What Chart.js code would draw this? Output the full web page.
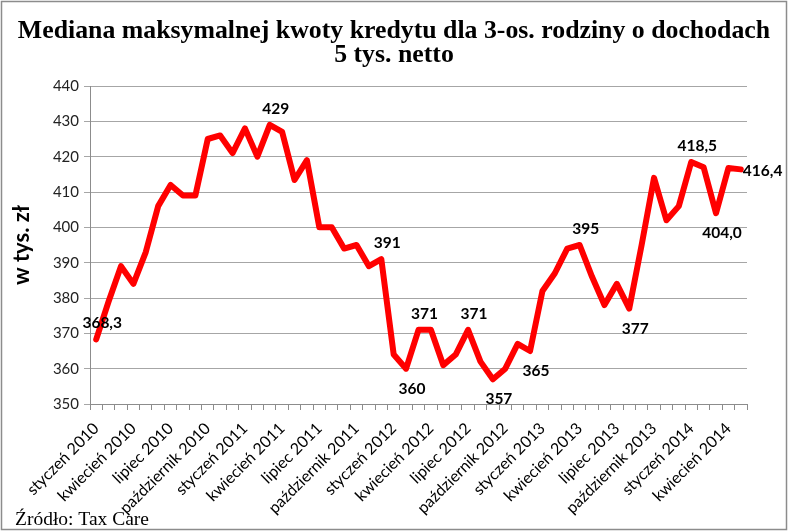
<!DOCTYPE html>
<html>
<head>
<meta charset="utf-8">
<script src="https://cdn.jsdelivr.net/npm/chart.js@4/dist/chart.umd.min.js"></script>
<style>
  html, body { margin: 0; padding: 0; background: #fff; }
</style>
</head>
<body>
<canvas id="chart" width="788" height="531"></canvas>
<script>
const months = ['styczeń', 'luty', 'marzec', 'kwiecień', 'maj', 'czerwiec', 'lipiec',
  'sierpień', 'wrzesień', 'październik', 'listopad', 'grudzień']
const years = [2010, 2011, 2012, 2013, 2014]

// Jan 2010 .. May 2014
const categories = []
years.forEach(y => months.forEach(m => categories.push(`${m} ${y}`)))
categories.length = 53

const values = [
  368.3, 379, 389, 384, 393, 406, 412, 409, 409, 425, 426, 421,
  428, 420, 429, 427, 413.4, 419, 400, 400, 394, 395, 389, 391,
  364, 360, 371, 371, 361, 364, 371, 362, 357, 360, 367, 365,
  382, 387, 394, 395, 386, 378, 384, 377, 395, 414, 402, 406,
  418.5, 417, 404.0, 416.8, 416.4
]

const yTicks = [350, 360, 370, 380, 390, 400, 410, 420, 430, 440]

// labelled points
const labelIndex = [0, 14, 23, 25, 26, 30, 32, 35, 39, 43, 48, 50, 52]
const labelText = ['368,3', '429', '391', '360', '371', '371', '357', '365', '395', '377', '418,5', '404,0', '416,4']
const labelPlace = ['above', 'above', 'above', 'below', 'above', 'above', 'below', 'below', 'above', 'below', 'above', 'below', 'right']

const title = ['Mediana maksymalnej kwoty kredytu dla 3-os. rodziny o dochodach', '5 tys. netto']
const yTitle = 'w tys. zł'
const source = 'Źródło: Tax Care'

const frame = {
  id: 'frame',
  beforeDraw(chart) {
    const ctx = chart.ctx
    ctx.save()
    ctx.fillStyle = '#fff'
    ctx.fillRect(0, 0, chart.width, chart.height)
    ctx.restore()
  },
  afterDraw(chart) {
    const ctx = chart.ctx
    ctx.save()
    ctx.strokeStyle = '#8c8c8c'
    ctx.lineWidth = 1.5
    ctx.strokeRect(1.5, 1.5, chart.width - 3, chart.height - 3)
    ctx.fillStyle = '#000'
    ctx.textBaseline = 'alphabetic'
    // title, centred on the whole picture
    ctx.font = 'bold 25.8px "Liberation Serif"'
    ctx.textAlign = 'center'
    ctx.fillText(title[0], chart.width / 2, 38)
    ctx.fillText(title[1], chart.width / 2, 62)
    // source note
    ctx.font = '19.5px "Liberation Serif"'
    ctx.textAlign = 'left'
    ctx.fillText(source, 15, 525)
    ctx.restore()
  }
}

const pointLabels = {
  id: 'pointLabels',
  afterDatasetsDraw(chart) {
    const ctx = chart.ctx
    const pts = chart.getDatasetMeta(0).data
    ctx.save()
    ctx.font = 'bold 15.5px Lato'
    ctx.fillStyle = '#000'
    ctx.textBaseline = 'middle'
    labelIndex.forEach((idx, i) => {
      const p = pts[idx]
      const place = labelPlace[i]
      if (place === 'right') {
        ctx.textAlign = 'left'
        ctx.fillText(labelText[i], p.x + 2, p.y + 2)
      } else {
        ctx.textAlign = 'center'
        ctx.fillText(labelText[i], p.x + 6, place === 'above' ? p.y - 16 : p.y + 20)
      }
    })
    ctx.restore()
  }
}

new Chart(document.getElementById('chart'), {
  type: 'line',
  data: {
    labels: categories,
    datasets: [{
      data: values,
      borderColor: '#ff0000',
      borderWidth: 6,
      borderJoinStyle: 'round',
      borderCapStyle: 'round',
      pointRadius: 0,
      tension: 0,
      fill: false
    }]
  },
  options: {
    responsive: false,
    animation: false,
    layout: { padding: { left: 0, right: 41, top: 86, bottom: 0 } },
    plugins: {
      legend: { display: false },
      tooltip: { enabled: false },
      title: { display: false }
    },
    scales: {
      x: {
        type: 'category',
        offset: true,
        afterFit(scale) { scale.height = 127 },
        grid: { offset: true, drawOnChartArea: false, drawTicks: true, tickLength: 6, color: '#8c8c8c' },
        border: { color: '#8c8c8c', width: 1 },
        ticks: {
          autoSkip: false,
          minRotation: 45,
          maxRotation: 45,
          padding: 9,
          color: '#000',
          font: { family: 'Lato', size: 16 },
          callback(value, index) { return index % 3 === 0 ? categories[index] : '' }
        }
      },
      y: {
        min: 350,
        max: 440,
        afterFit(scale) { scale.width = 90 },
        afterBuildTicks(scale) { scale.ticks = yTicks.map(v => ({ value: v })) },
        grid: { color: '#a6a6a6', tickLength: 6, lineWidth: 1 },
        border: { color: '#8c8c8c', width: 1 },
        title: {
          display: true,
          text: yTitle,
          color: '#000',
          font: { family: 'Lato', size: 22, weight: 'bold' },
          padding: { top: 9, bottom: 0 }
        },
        ticks: {
          padding: 5,
          color: '#222',
          font: { family: 'Lato', size: 15 }
        }
      }
    }
  },
  plugins: [frame, pointLabels]
})
</script>
</body>
</html>
